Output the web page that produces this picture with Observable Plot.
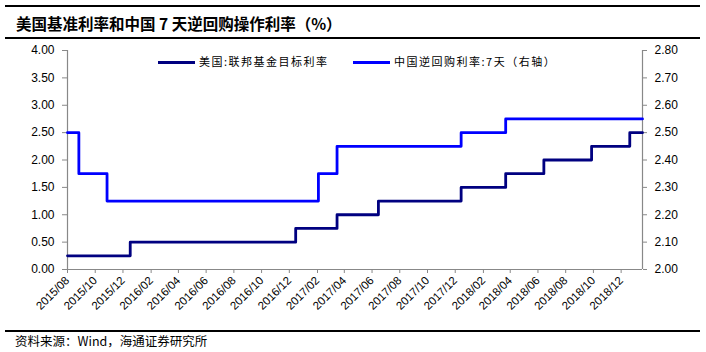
<!DOCTYPE html>
<html><head><meta charset="utf-8">
<script src="https://cdn.jsdelivr.net/npm/d3@7"></script>
<script src="https://cdn.jsdelivr.net/npm/@observablehq/plot@0.6"></script>
<style>
body{margin:0;background:#fff;}
#wrap{position:relative;width:706px;height:352px;overflow:hidden;font-family:"Liberation Sans",Arial,sans-serif;background:#fff;}
.hline{position:absolute;left:5px;width:695px;height:0;border-top:2px solid #000;}
#title{position:absolute;left:16px;top:12px;font-family:"Noto Sans CJK SC",sans-serif;font-weight:bold;font-size:15.5px;line-height:22px;color:#000;white-space:nowrap;}
#foot{position:absolute;left:15px;top:332px;font-family:"Noto Sans CJK SC",sans-serif;font-size:12.5px;line-height:18px;color:#000;white-space:nowrap;}
#chart{position:absolute;left:0;top:40px;}
.leg{position:absolute;top:53px;height:16px;font-family:"Noto Sans CJK SC",sans-serif;font-size:11px;letter-spacing:1.5px;line-height:16px;color:#000;white-space:nowrap;}
.leg i{display:inline-block;width:37px;height:0;border-top:3px solid;vertical-align:middle;margin-right:4px;position:relative;top:-1px;}
</style>
</head><body>
<div id="wrap">
  <div class="hline" style="top:5px"></div>
  <div id="title">美国基准利率和中国 7 天逆回购操作利率（%）</div>
  <div class="hline" style="top:37px"></div>
  <div id="chart"></div>
  <div class="leg" style="left:158px"><i style="border-color:#000080"></i>美国:联邦基金目标利率</div>
  <div class="leg" style="left:353px"><i style="border-color:#0000FF"></i>中国逆回购利率:7天（右轴）</div>
  <div class="hline" style="top:330px"></div>
  <div id="foot">资料来源：Wind，海通证券研究所</div>
</div>
<script>
// US Fed funds target rate (upper bound), left axis
const fedDates = ["2015-08-01","2015-12-17","2016-12-15","2017-03-16","2017-06-15","2017-12-14","2018-03-22","2018-06-14","2018-09-27","2018-12-20","2019-01-17"];
const fedRates = [0.25,0.50,0.75,1.00,1.25,1.50,1.75,2.00,2.25,2.50,2.50];
// China 7-day reverse repo rate, right axis
const cnDates = ["2015-08-01","2015-08-26","2015-10-27","2017-02-03","2017-03-16","2017-12-14","2018-03-22","2019-01-17"];
const cnRates = [2.50,2.35,2.25,2.35,2.45,2.50,2.55,2.55];
// axes
const leftTicks = [0,0.5,1,1.5,2,2.5,3,3.5,4];
const rightTicks = [2.0,2.1,2.2,2.3,2.4,2.5,2.6,2.7,2.8];
const xTickLabels = ["2015/08","2015/10","2015/12","2016/02","2016/04","2016/06","2016/08","2016/10","2016/12","2017/02","2017/04","2017/06","2017/08","2017/10","2017/12","2018/02","2018/04","2018/06","2018/08","2018/10","2018/12"];

const parse = d3.utcParse("%Y-%m-%d");
const parseM = d3.utcParse("%Y/%m");
const fed = fedDates.map((d,i)=>({date:parse(d), v:fedRates[i]}));
// right axis 2.00–2.80 maps onto left 0–4
const r2l = v => (v - rightTicks[0]) / (rightTicks[rightTicks.length-1]-rightTicks[0]) * leftTicks[leftTicks.length-1];
const cn = cnDates.map((d,i)=>({date:parse(d), v:r2l(cnRates[i])}));
const xTicks = xTickLabels.map(parseM);
const x0 = parse(fedDates[0]), x1 = parse(fedDates[fedDates.length-1]);

const chart = Plot.plot({
  width: 706, height: 285,
  marginLeft: 67, marginRight: 64, marginTop: 10, marginBottom: 56,
  style: {fontFamily: '"Liberation Sans", Arial, sans-serif', fontSize: "12px", background: "transparent", color: "#000"},
  x: {type: "utc", domain: [x0, x1]},
  y: {domain: [0, 4]},
  marks: [
    Plot.ruleX([x0, x1], {stroke: "#888", strokeWidth: 1.2}),
    Plot.ruleY([0], {stroke: "#888", strokeWidth: 1.2}),
    Plot.axisY(leftTicks, {anchor: "left", tickSize: 5, tickPadding: 8, stroke: "#888", fill: "#000", tickFormat: d => d.toFixed(2), label: null, fontSize: 12}),
    Plot.axisY(rightTicks.map(r2l), {anchor: "right", tickSize: 4, tickPadding: 8, stroke: "#888", fill: "#000", tickFormat: d => rightTicks[Math.round(d / r2l(rightTicks[1]))].toFixed(2), label: null, fontSize: 12}),
    Plot.axisX(xTicks, {anchor: "bottom", tickSize: 4, tickPadding: 5, tickRotate: -45, stroke: "#888", fill: "#000", tickFormat: d3.utcFormat("%Y/%m"), label: null, fontSize: 11.5}),
    Plot.line(fed, {x: "date", y: "v", curve: "step-after", stroke: "#000080", strokeWidth: 2.8}),
    Plot.line(cn, {x: "date", y: "v", curve: "step-after", stroke: "#0000FF", strokeWidth: 2.8})
  ]
});
document.getElementById("chart").appendChild(chart);
</script>
</body></html>
